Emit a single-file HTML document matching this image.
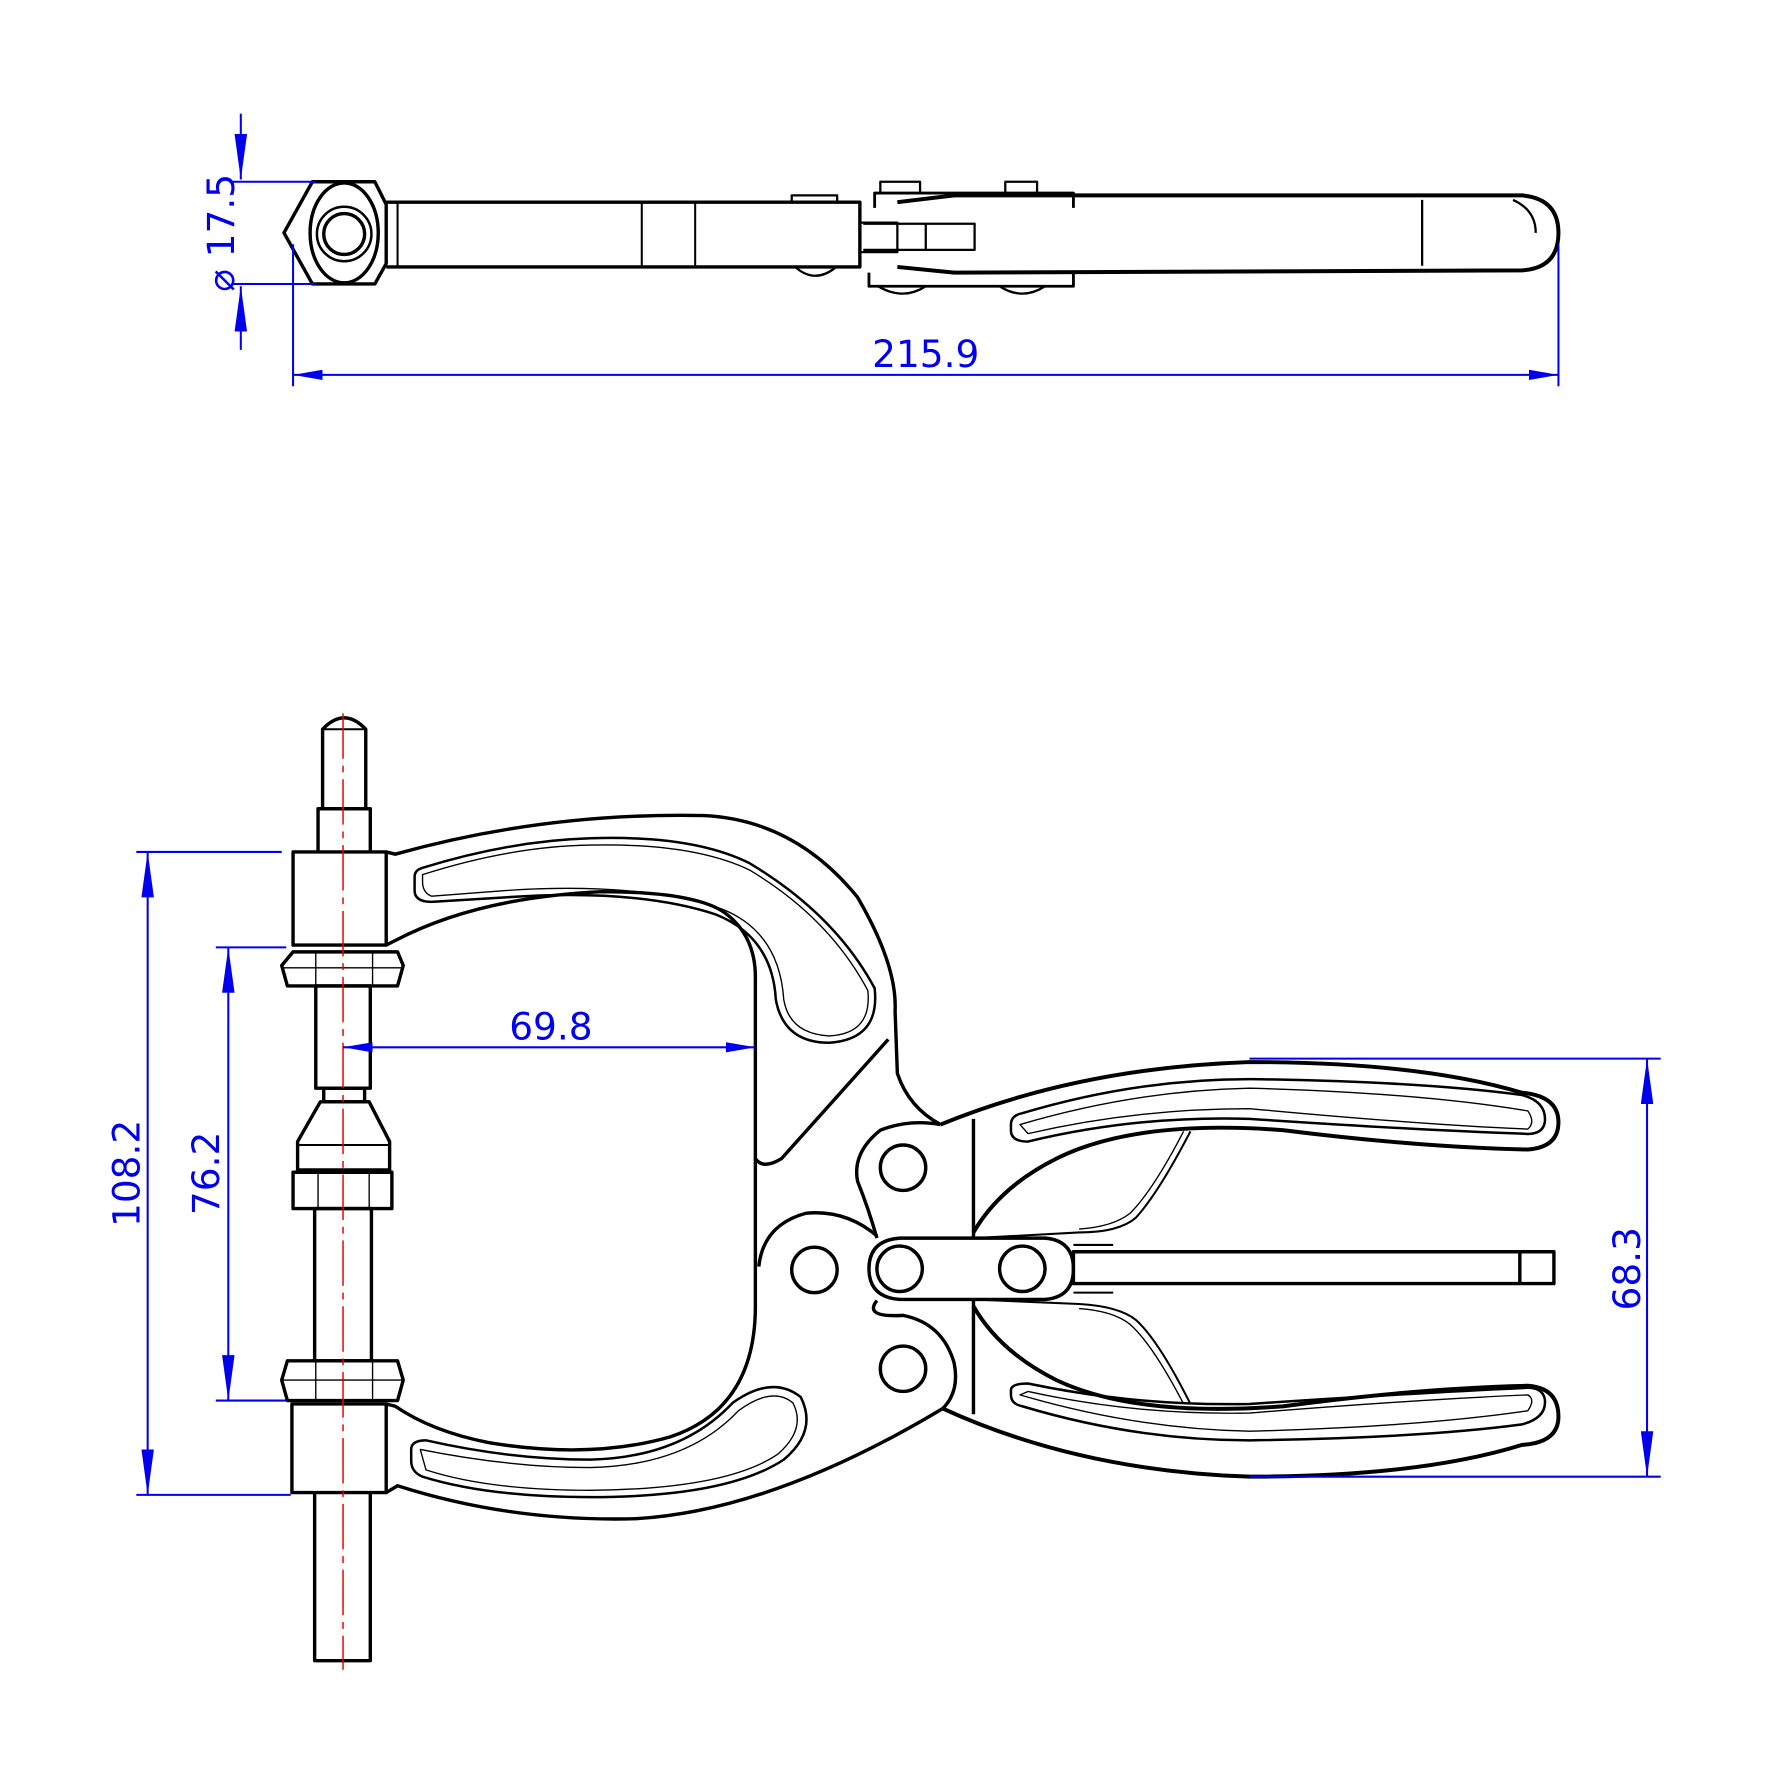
<!DOCTYPE html>
<html><head><style>html,body{margin:0;padding:0;background:#fff}svg{display:block}</style></head>
<body>
<svg width="1772" height="1772" viewBox="0 0 1560 1560" xmlns="http://www.w3.org/2000/svg">
<defs>
<marker id="a" viewBox="0 0 10 10" refX="10" refY="5" markerWidth="40" markerHeight="11" markerUnits="userSpaceOnUse" orient="auto-start-reverse" preserveAspectRatio="none"><path d="M0,0 L10,5 L0,10 Z" fill="#0000ee"/></marker>
<marker id="b" viewBox="0 0 10 10" refX="10" refY="5" markerWidth="26" markerHeight="9" markerUnits="userSpaceOnUse" orient="auto-start-reverse" preserveAspectRatio="none"><path d="M0,0 L10,5 L0,10 Z" fill="#0000ee"/></marker>
</defs>
<g fill="none" stroke="#000" stroke-width="3" stroke-linejoin="round">
<!-- TOP VIEW -->
<path d="M275,160 L330,160 L340,180 L340,232 L330,250 L275,250 L250,205 Z"/>
<ellipse cx="303" cy="205" rx="30" ry="44"/>
<circle cx="303" cy="206" r="24" stroke-width="2.2"/>
<circle cx="303" cy="206" r="18"/>
<path d="M340,178 L757,178 L757,235 L340,235"/>
<line x1="350" y1="178" x2="350" y2="235" stroke-width="1.8"/>
<line x1="565" y1="178" x2="565" y2="235" stroke-width="1.8"/>
<line x1="612" y1="178" x2="612" y2="235" stroke-width="1.8"/>
<path d="M757,196 L790,196 L790,222 L757,222" stroke-width="2"/>
<path d="M760,197 L858,197 L858,220 L760,220" stroke-width="2"/>
<line x1="815" y1="197" x2="815" y2="220" stroke-width="2"/>
<path d="M770,183 L770,170 L945,170 L945,183" stroke-width="2.5"/>
<path d="M765,240 L765,252 L945,252 L945,240" stroke-width="2.5"/>
<path d="M697,178 L697,172 L737,172 L737,178" stroke-width="2"/>
<path d="M775,170 L775,160 L810,160 L810,170" stroke-width="2"/>
<path d="M885,170 L885,160 L913,160 L913,170" stroke-width="2"/>
<path d="M700,235 Q717,250 735,236" stroke-width="2"/>
<path d="M773,252 Q795,265 815,252 M880,252 Q900,265 920,252" stroke-width="2"/>
<path d="M790,178 L840,172 L1340,172 Q1372,175 1372,205 Q1372,236 1340,238 L840,240 L790,235" stroke-width="3.5"/>
<line x1="1252" y1="176" x2="1252" y2="234" stroke-width="2"/>
<path d="M1332,176 Q1352,185 1352,205" stroke-width="2"/>

<!-- FRONT VIEW: spindle -->
<path d="M280,750 L280,712 L326,712 L326,750"/>
<path d="M284,712 L284,642 Q303,622 322,642 L322,712"/>
<line x1="284" y1="642" x2="322" y2="642" stroke-width="1.8"/>
<rect x="258" y="750" width="82" height="82"/>
<path d="M258,838 L350,838 L355,850 L350,868 L253,868 L248,850 Z"/>
<line x1="248" y1="852" x2="355" y2="852" stroke-width="1.2"/>
<line x1="278" y1="838" x2="278" y2="868" stroke-width="1.2"/><line x1="328" y1="838" x2="328" y2="868" stroke-width="1.2"/>
<rect x="278" y="868" width="48" height="90"/>
<rect x="285" y="958" width="36" height="12"/>
<path d="M282,970 L325,970 L343,1005 L343,1030 L262,1030 L262,1005 Z"/>
<line x1="262" y1="1008" x2="343" y2="1008" stroke-width="1.8"/>
<path d="M258,1032 L345,1032 L345,1064 L258,1064 Z"/>
<line x1="280" y1="1032" x2="280" y2="1064" stroke-width="1.2"/><line x1="325" y1="1032" x2="325" y2="1064" stroke-width="1.2"/>
<rect x="277" y="1064" width="50" height="134"/>
<path d="M253,1198 L350,1198 L355,1215 L350,1233 L253,1233 L248,1215 Z"/>
<line x1="248" y1="1215" x2="355" y2="1215" stroke-width="1.2"/>
<line x1="278" y1="1198" x2="278" y2="1233" stroke-width="1.2"/><line x1="328" y1="1198" x2="328" y2="1233" stroke-width="1.2"/>
<rect x="257" y="1236" width="83" height="78"/>
<path d="M277,1314 L277,1462 L326,1462 L326,1314"/>
<!-- upper jaw -->
<path d="M340,750 L348,752 Q480,715 620,718 Q700,722 755,790 Q790,850 788,890 L790,945 Q800,975 828,990"/>
<path d="M340,832 L348,828 Q420,790 530,785 Q615,785 640,805 Q665,825 665,860 L665,1020 Q672,1030 688,1020 L782,915"/>
<path d="M365,772 Q365,766 372,764 Q450,740 520,738 Q610,735 660,760 Q735,805 770,870 Q775,915 730,918 Q690,918 683,880 Q680,825 630,805 Q560,782 445,790 L380,794 Q365,794 365,784 Z" stroke-width="2.2"/>
<path d="M372,770 Q450,745 520,744 Q610,742 660,766 Q730,808 764,872 Q768,910 730,912 Q695,910 690,880 Q686,820 635,800 Q560,776 445,784 L380,789 Q372,786 372,776 Z" stroke-width="1.2"/>
<!-- lower jaw -->
<path d="M665,1020 L665,1150 Q665,1240 590,1265 Q520,1285 430,1270 Q380,1260 348,1238 L340,1236"/>
<path d="M340,1314 L350,1308 Q450,1340 560,1337 Q680,1330 830,1240"/>
<path d="M362,1276 Q362,1268 375,1268 Q450,1285 520,1285 Q600,1283 645,1235 Q680,1210 705,1230 Q720,1260 690,1285 Q640,1318 520,1318 Q430,1318 372,1300 Q362,1296 362,1286 Z" stroke-width="2.2"/>
<path d="M370,1276 Q450,1292 520,1292 Q605,1290 650,1242 Q680,1220 698,1235 Q710,1258 685,1280 Q640,1311 520,1312 Q430,1312 375,1294 Z" stroke-width="1.2"/>
<!-- pivot region -->
<path d="M828,990 Q800,985 775,995 Q750,1015 755,1040 Q765,1065 772,1090"/>
<path d="M772,1088 Q745,1065 710,1068 Q672,1078 668,1115"/>
<path d="M772,1145 Q760,1160 795,1158 Q830,1165 840,1200 Q845,1225 830,1240"/>
<circle cx="795" cy="1028" r="20"/>
<circle cx="717" cy="1118" r="20"/>
<circle cx="795" cy="1205" r="20"/>
<circle cx="792" cy="1117" r="20"/>
<circle cx="900" cy="1117" r="20"/>
<path d="M792,1090 L920,1090 Q945,1092 945,1117 Q945,1142 920,1144 L792,1144 Q765,1142 765,1117 Q765,1092 792,1090 Z"/>
<rect x="945" y="1102" width="423" height="28"/>
<line x1="1338" y1="1102" x2="1338" y2="1130"/>
<line x1="945" y1="1096" x2="980" y2="1096" stroke-width="1.8"/>
<line x1="945" y1="1138" x2="980" y2="1138" stroke-width="1.8"/>
<line x1="857" y1="985" x2="857" y2="1090"/>
<line x1="857" y1="1144" x2="857" y2="1245"/>
<!-- upper handle -->
<path d="M828,990 Q950,940 1100,935 Q1250,935 1340,962 Q1372,965 1372,988 Q1372,1010 1345,1012 Q1250,1010 1130,995 Q1000,985 930,1020 Q880,1045 857,1085" stroke-width="3.5"/>
<path d="M890,990 Q890,982 900,980 Q1000,950 1100,950 Q1250,952 1340,964 Q1362,970 1360,988 Q1358,1000 1340,998 Q1250,995 1100,985 Q1000,982 905,1005 Q890,1005 890,995 Z" stroke-width="2.2"/>
<path d="M898,990 Q1000,960 1100,958 Q1250,962 1345,978 Q1352,988 1345,994 Q1250,990 1100,976 Q1000,976 905,998 Z" stroke-width="1.2"/>
<path d="M1048,996 Q1020,1050 1000,1072 Q985,1085 950,1085 L857,1090" stroke-width="1.8"/>
<path d="M1042,996 Q1015,1048 995,1068 Q980,1080 950,1082" stroke-width="1.2"/>
<!-- lower handle -->
<path d="M830,1240 Q950,1295 1100,1300 Q1250,1300 1340,1272 Q1372,1270 1372,1247 Q1372,1222 1345,1220 Q1250,1222 1130,1238 Q1000,1248 930,1215 Q880,1190 857,1150" stroke-width="3.5"/>
<path d="M890,1228 Q890,1236 900,1238 Q1000,1268 1100,1268 Q1250,1266 1340,1254 Q1362,1248 1360,1232 Q1358,1220 1340,1222 Q1250,1226 1100,1236 Q1000,1238 905,1218 Q890,1218 890,1224 Z" stroke-width="2.2"/>
<path d="M898,1228 Q1000,1258 1100,1260 Q1250,1256 1345,1242 Q1352,1232 1345,1228 Q1250,1232 1100,1244 Q1000,1246 905,1225 Z" stroke-width="1.2"/>
<path d="M1048,1236 Q1020,1180 1000,1162 Q985,1150 950,1148 L857,1144" stroke-width="1.8"/>
<path d="M1042,1236 Q1015,1184 995,1166 Q980,1154 950,1152" stroke-width="1.2"/>
</g>
<!-- centerline -->
<line x1="302" y1="628" x2="302" y2="1470" stroke="#e00" stroke-width="1.3" stroke-dasharray="40,6,6,6"/>
<!-- dimensions -->
<g stroke="#0000ee" stroke-width="1.8" fill="none">
<line x1="212" y1="100" x2="212" y2="158" marker-end="url(#a)"/>
<line x1="212" y1="308" x2="212" y2="252" marker-end="url(#a)"/>
<line x1="205" y1="160" x2="278" y2="160"/>
<line x1="205" y1="250" x2="278" y2="250"/>
<line x1="258" y1="215" x2="258" y2="340"/>
<line x1="1372" y1="215" x2="1372" y2="340"/>
<line x1="258" y1="330" x2="1372" y2="330" marker-start="url(#b)" marker-end="url(#b)"/>
<line x1="120" y1="750" x2="248" y2="750"/>
<line x1="120" y1="1316" x2="256" y2="1316"/>
<line x1="130" y1="750" x2="130" y2="1316" marker-start="url(#a)" marker-end="url(#a)"/>
<line x1="190" y1="834" x2="252" y2="834"/>
<line x1="190" y1="1233" x2="252" y2="1233"/>
<line x1="201" y1="834" x2="201" y2="1233" marker-start="url(#a)" marker-end="url(#a)"/>
<line x1="302" y1="922" x2="665" y2="922" marker-start="url(#b)" marker-end="url(#b)"/>
<line x1="1100" y1="932" x2="1462" y2="932"/>
<line x1="1100" y1="1300" x2="1462" y2="1300"/>
<line x1="1450" y1="932" x2="1450" y2="1300" marker-start="url(#a)" marker-end="url(#a)"/>
</g>
<g fill="#0000ee" font-family="'DejaVu Sans','Liberation Sans',sans-serif" font-size="33">
<text x="815" y="323" text-anchor="middle">215.9</text>
<text x="485" y="915" text-anchor="middle">69.8</text>
<text transform="translate(206,205) rotate(-90)" text-anchor="middle">⌀ 17.5</text>
<text transform="translate(123,1033) rotate(-90)" text-anchor="middle">108.2</text>
<text transform="translate(193,1033) rotate(-90)" text-anchor="middle">76.2</text>
<text transform="translate(1444,1117) rotate(-90)" text-anchor="middle">68.3</text>
</g>
</svg>
</body></html>
